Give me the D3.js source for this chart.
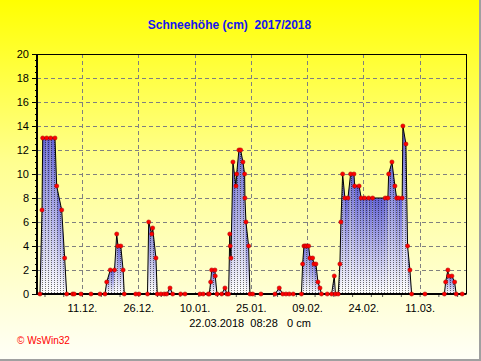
<!DOCTYPE html>
<html>
<head>
<meta charset="utf-8">
<script src="https://cdn.jsdelivr.net/npm/d3@7"></script>
<style>
  html, body { margin: 0; padding: 0; background: #fff; }
  svg { display: block; }
  text { font-family: "Liberation Sans", Arial, sans-serif; }
</style>
</head>
<body>
<svg id="chart" width="481" height="361"></svg>
<script>
// ---- data ----
const titleText = "Schneehöhe (cm)  2017/2018";
const footerText = "22.03.2018  08:28   0 cm";
const creditText = "© WsWin32";

const times = [
  "2017-11-29 19:00","2017-11-30 08:00","2017-11-30 12:30","2017-12-01 14:00","2017-12-02 15:30",
  "2017-12-03 19:00","2017-12-04 06:00","2017-12-05 14:00","2017-12-06 09:00","2017-12-06 22:00",
  "2017-12-08 12:00","2017-12-08 22:30","2017-12-10 17:30","2017-12-13 09:30","2017-12-15 19:00",
  "2017-12-17 03:00","2017-12-17 14:00","2017-12-18 13:00","2017-12-19 16:00","2017-12-20 06:00",
  "2017-12-20 14:00","2017-12-21 08:00","2017-12-21 23:00","2017-12-22 06:30","2017-12-25 07:30",
  "2017-12-26 04:30","2017-12-28 11:00","2017-12-28 18:30","2017-12-29 14:30","2017-12-29 20:00",
  "2017-12-30 17:00","2017-12-31 01:30","2018-01-01 01:00","2018-01-01 22:00","2018-01-02 13:30",
  "2018-01-03 11:00","2018-01-04 04:00","2018-01-06 07:00","2018-01-07 11:00","2018-01-11 10:30",
  "2018-01-12 07:30","2018-01-13 16:00","2018-01-13 22:00","2018-01-14 07:00","2018-01-14 13:30",
  "2018-01-15 10:30","2018-01-15 12:30","2018-01-15 23:30","2018-01-17 05:30","2018-01-18 02:30",
  "2018-01-18 15:30","2018-01-19 02:00","2018-01-19 09:30","2018-01-19 12:30","2018-01-19 17:00",
  "2018-01-20 05:30","2018-01-21 01:00","2018-01-21 05:30","2018-01-21 20:00","2018-01-22 07:00",
  "2018-01-22 21:30","2018-01-23 08:30","2018-01-23 10:30","2018-01-23 17:00","2018-01-24 10:00",
  "2018-01-24 18:30","2018-01-25 12:00","2018-01-27 17:00","2018-01-31 10:30","2018-02-01 14:00",
  "2018-02-02 12:00","2018-02-03 09:00","2018-02-04 06:00","2018-02-05 07:30","2018-02-07 12:00",
  "2018-02-07 19:30","2018-02-08 04:00","2018-02-08 12:00","2018-02-08 21:00","2018-02-09 10:00",
  "2018-02-09 18:00","2018-02-10 11:30","2018-02-10 20:00","2018-02-11 08:30","2018-02-11 21:30",
  "2018-02-12 10:30","2018-02-12 20:00","2018-02-14 09:00","2018-02-15 13:00","2018-02-16 06:00",
  "2018-02-16 13:30","2018-02-17 07:00","2018-02-17 18:00","2018-02-18 00:30","2018-02-18 11:30",
  "2018-02-19 02:00","2018-02-19 21:30","2018-02-20 14:30","2018-02-21 12:00","2018-02-21 16:30",
  "2018-02-22 21:00","2018-02-23 10:00","2018-02-24 08:00","2018-02-25 10:00","2018-02-26 11:30",
  "2018-03-01 20:00","2018-03-02 13:00","2018-03-02 18:00","2018-03-03 15:00","2018-03-04 10:00",
  "2018-03-04 21:00","2018-03-05 09:30","2018-03-06 08:30","2018-03-06 13:00","2018-03-07 08:30",
  "2018-03-07 19:00","2018-03-08 10:00","2018-03-08 21:00","2018-03-12 10:00","2018-03-17 14:30",
  "2018-03-17 22:30","2018-03-18 13:00","2018-03-18 17:30","2018-03-19 14:30","2018-03-20 08:00",
  "2018-03-20 18:00","2018-03-22 08:28"
];
const depths = [
  0, 7, 13, 13, 13,
  13, 9, 7, 3, 0,
  0, 0, 0, 0, 0,
  0, 1, 2, 2, 5,
  4, 4, 2, 0, 0,
  0, 0, 6, 5, 5.5,
  3, 0, 0, 0, 0,
  0.5, 0, 0, 0, 0,
  0, 0, 0, 1, 2,
  2, 1.5, 0, 0, 0.5,
  0, 0, 5, 4, 3,
  11, 9, 10, 12, 12,
  11, 10, 8, 6, 4,
  0, 0, 0, 0, 0.5,
  0, 0, 0, 0, 0,
  2.5, 4, 4, 4, 4,
  3, 3, 2.5, 2.5, 1,
  0.5, 0, 0, 0, 1.5,
  0, 0, 2.5, 6, 10,
  8, 8, 10, 10, 9,
  9, 8, 8, 8, 8,
  8, 8, 10, 11, 9,
  8, 8, 8, 14, 12.5,
  4, 2, 0, 0, 0,
  1, 2, 1.5, 1.5, 1,
  0, 0
];
const xTickDates = ["2017-12-11","2017-12-26","2018-01-10","2018-01-25","2018-02-09","2018-02-24","2018-03-11"];
const yTickValues = [0, 2, 4, 6, 8, 10, 12, 14, 16, 18, 20];
const xDomain = ["2017-11-29 00:00", "2018-03-23 12:00"];

// ---- setup ----
const W = 481, H = 361;
const M = { left: 37, right: 466.5, top: 54, bottom: 294 };
const parseT = d3.timeParse("%Y-%m-%d %H:%M");
const parseD = d3.timeParse("%Y-%m-%d");
const data = times.map((t, i) => ({ t: parseT(t), v: depths[i] }));

const x = d3.scaleTime().domain(xDomain.map(parseT)).range([M.left, M.right]);
const y = d3.scaleLinear().domain([0, 20]).range([M.bottom, M.top]);

const svg = d3.select("#chart");
const defs = svg.append("defs");

const bg = defs.append("linearGradient").attr("id", "bg")
  .attr("x1", 0).attr("y1", 0).attr("x2", 0).attr("y2", 1);
bg.append("stop").attr("offset", "0%").attr("stop-color", "#ffff00");
bg.append("stop").attr("offset", "45%").attr("stop-color", "#ffff90");
bg.append("stop").attr("offset", "100%").attr("stop-color", "#fffff8");

const fillG = defs.append("linearGradient").attr("id", "fillG")
  .attr("x1", 0).attr("y1", 0).attr("x2", 0).attr("y2", 1);
fillG.append("stop").attr("offset", "0%").attr("stop-color", "#6262d4");
fillG.append("stop").attr("offset", "100%").attr("stop-color", "#ffffff");

const pat = defs.append("pattern").attr("id", "hatch")
  .attr("patternUnits", "userSpaceOnUse").attr("width", 3).attr("height", 2);
pat.append("rect").attr("x", 0).attr("y", 0).attr("width", 1).attr("height", 1)
  .attr("fill", "#000").attr("opacity", 0.55);

// background
svg.append("rect").attr("x", 0).attr("y", 0).attr("width", W).attr("height", H).attr("fill", "url(#bg)");
// outer shadow border
svg.append("rect").attr("x", 479).attr("y", 0).attr("width", 2).attr("height", H).attr("fill", "#a0a0a0");
svg.append("rect").attr("x", 0).attr("y", 359).attr("width", W).attr("height", 2).attr("fill", "#a0a0a0");

// title
svg.append("text").attr("x", 229.5).attr("y", 28.5).attr("text-anchor", "middle")
  .attr("font-size", 12).attr("font-weight", "bold").attr("fill", "#1414f0")
  .style("white-space", "pre").text(titleText);

// grid lines
const grid = svg.append("g").attr("stroke", "#808080").attr("stroke-width", 1).attr("stroke-dasharray", "4,3");
grid.selectAll(".hg").data(yTickValues.filter(v => v > 0 && v < 20)).join("line")
  .attr("x1", M.left).attr("x2", M.right)
  .attr("y1", d => Math.round(y(d)) + 0.5).attr("y2", d => Math.round(y(d)) + 0.5);
grid.selectAll(".vg").data(xTickDates.map(parseD)).join("line")
  .attr("x1", d => Math.round(x(d)) + 0.5).attr("x2", d => Math.round(x(d)) + 0.5)
  .attr("y1", M.top).attr("y2", M.bottom);

// area segments with per-column gradient
const seg = d3.area().x(d => x(d.t)).y0(y(0)).y1(d => y(d.v));
const pairs = d3.pairs(data).filter(([a, b]) => a.v > 0 || b.v > 0);
svg.append("g").selectAll("path").data(pairs).join("path")
  .attr("d", p => seg(p)).attr("fill", "url(#fillG)");

// dotted hatch overlay
const fullArea = d3.area().x(d => x(d.t)).y0(y(0)).y1(d => y(d.v));
svg.append("path").attr("d", fullArea(data)).attr("fill", "url(#hatch)");

// outline line
const line = d3.line().x(d => x(d.t)).y(d => y(d.v));
svg.append("path").attr("d", line(data)).attr("fill", "none").attr("stroke", "#000").attr("stroke-width", 1);

// frame: top & right
svg.append("line").attr("x1", M.left).attr("x2", M.right).attr("y1", M.top + 0.5).attr("y2", M.top + 0.5)
  .attr("stroke", "#000").attr("stroke-width", 1);
svg.append("line").attr("x1", M.right).attr("x2", M.right).attr("y1", M.top).attr("y2", M.bottom)
  .attr("stroke", "#000").attr("stroke-width", 1);

// y axis
const yAxis = d3.axisLeft(y).tickValues(yTickValues).tickSize(5).tickPadding(3).tickFormat(d3.format("d"));
const yg = svg.append("g").attr("transform", `translate(${M.left},0)`).call(yAxis);
yg.select(".domain").remove();
yg.selectAll("text").attr("font-size", 11).attr("font-family", "Liberation Sans, Arial, sans-serif").attr("fill", "#000");
yg.selectAll("line").attr("stroke", "#000");
const yMinor = d3.axisLeft(y).tickValues(d3.range(0, 20.01, 0.5)).tickSize(2).tickFormat("");
const ym = svg.append("g").attr("transform", `translate(${M.left},0)`).call(yMinor);
ym.select(".domain").remove();

// x axis
const xAxis = d3.axisBottom(x).tickValues(xTickDates.map(parseD)).tickSize(0).tickPadding(10)
  .tickFormat(d3.timeFormat("%d.%m."));
const xg = svg.append("g").attr("transform", `translate(0,${M.bottom})`).call(xAxis);
xg.select(".domain").remove();
xg.selectAll("text").attr("font-size", 11).attr("font-family", "Liberation Sans, Arial, sans-serif").attr("fill", "#000");
const xMinor = d3.axisBottom(x).ticks(d3.timeDay.every(5)).tickSize(3).tickFormat("");
const xm = svg.append("g").attr("transform", `translate(0,${M.bottom})`).call(xMinor);
xm.select(".domain").remove();
xm.selectAll("line").attr("stroke", "#555");

// axis lines (thick)
svg.append("line").attr("x1", M.left).attr("x2", M.left).attr("y1", M.top).attr("y2", M.bottom + 1)
  .attr("stroke", "#000").attr("stroke-width", 2);
svg.append("line").attr("x1", M.left - 1).attr("x2", M.right).attr("y1", M.bottom).attr("y2", M.bottom)
  .attr("stroke", "#000").attr("stroke-width", 2);

// points
svg.append("g").selectAll("circle").data(data).join("circle")
  .attr("cx", d => x(d.t)).attr("cy", d => y(d.v)).attr("r", 2.1)
  .attr("fill", "#ff0000").attr("stroke", "#a00000").attr("stroke-width", 0.5);

// footer
svg.append("text").attr("x", 250).attr("y", 326.5).attr("text-anchor", "middle")
  .attr("font-size", 11).attr("fill", "#000").style("white-space", "pre").text(footerText);
svg.append("text").attr("x", 17).attr("y", 343.5).attr("text-anchor", "start")
  .attr("font-size", 10).attr("fill", "#ff0000").text(creditText);
</script>
</body>
</html>
